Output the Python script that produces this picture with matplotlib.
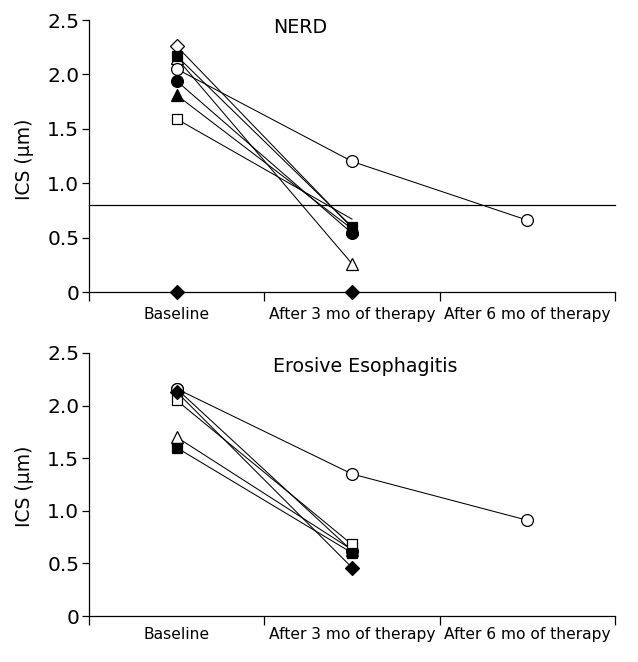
import numpy as np
import matplotlib
matplotlib.use("Agg")
import matplotlib.pyplot as plt

nan = np.nan
categories = ["Baseline", "After 3 mo of therapy", "After 6 mo of therapy"]
y_ticks = [0, 0.5, 1.0, 1.5, 2.0, 2.5]
y_tick_labels = ["0", "0.5", "1.0", "1.5", "2.0", "2.5"]
threshold = 0.8

# NERD panel (one list per patient)
nerd_open_triangle = [2.15, 0.26, nan]
nerd_filled_square = [2.17, 0.60, nan]
nerd_open_diamond = [2.26, 0.59, nan]
nerd_open_square = [1.59, 0.67, nan]
nerd_open_circle = [2.05, 1.20, 0.66]
nerd_filled_circle = [1.94, 0.54, nan]
nerd_filled_triangle = [1.81, 0.58, nan]
nerd_filled_diamond = [0.0, 0.0, nan]

# Erosive esophagitis panel
ero_open_circle_b = [2.16, 0.62, nan]
ero_open_triangle = [1.70, 0.63, nan]
ero_filled_square = [1.60, 0.60, nan]
ero_open_square = [2.05, 0.68, nan]
ero_filled_diamond = [2.13, 0.46, nan]
ero_open_circle = [2.16, 1.35, 0.91]

W, H = 638, 662
fig = plt.figure(figsize=(W / 100, H / 100), dpi=100)
plt.rcParams['font.family'] = ['DejaVu Sans']

xpos = np.arange(len(categories)) + 0.5

styles = {
    'open_circle': dict(marker='o', mfc='white', ms=8.5),
    'filled_circle': dict(marker='o', mfc='black', ms=8.5),
    'open_square': dict(marker='s', mfc='white', ms=7.2),
    'filled_square': dict(marker='s', mfc='black', ms=7.2),
    'open_triangle': dict(marker='^', mfc='white', ms=8.5),
    'filled_triangle': dict(marker='^', mfc='black', ms=8.5),
    'open_diamond': dict(marker='D', mfc='white', ms=7.0),
    'filled_diamond': dict(marker='D', mfc='black', ms=7.0),
}


def draw(ax, vals, kind, markevery=None):
    st = dict(styles[kind])
    kw = dict(color='black', lw=0.75, mec='black', mew=0.9, **st)
    if markevery is not None:
        kw['markevery'] = markevery
    ax.plot(xpos, vals, **kw)


def setup(ax, title, ty):
    ax.set_xlim(0, 3)
    ax.set_ylim(0, 2.5)
    for s in ['top', 'right']:
        ax.spines[s].set_visible(False)
    for s in ['left', 'bottom']:
        ax.spines[s].set_linewidth(0.9)
    ax.set_yticks(y_ticks)
    ax.set_yticklabels(y_tick_labels, fontsize=14.5)
    ax.tick_params(axis='y', direction='out', length=5, width=0.9, pad=2)
    ax.set_xticks([0, 1, 2, 3])
    ax.set_xticklabels([])
    ax.tick_params(axis='x', which='major', direction='out', length=6.5, width=0.9)
    ax.set_xticks(xpos, minor=True)
    ax.set_xticklabels(categories, minor=True, fontsize=11.2)
    ax.tick_params(axis='x', which='minor', length=0, pad=11)
    ax.text(0.35, ty, title, transform=ax.transAxes, fontsize=13.7,
            ha='left', va='center')


# top panel
ax1 = fig.add_axes([89 / W, 1 - 292 / H, 526 / W, 272 / H])
ax1.axhline(threshold, color='black', lw=0.9)
draw(ax1, nerd_open_triangle, 'open_triangle')
draw(ax1, nerd_open_diamond, 'open_diamond', markevery=[0])
draw(ax1, nerd_open_square, 'open_square', markevery=[0])
draw(ax1, nerd_filled_square, 'filled_square')
draw(ax1, nerd_open_circle, 'open_circle')
draw(ax1, nerd_filled_triangle, 'filled_triangle')
draw(ax1, nerd_filled_circle, 'filled_circle')
draw(ax1, nerd_filled_diamond, 'filled_diamond')
setup(ax1, "NERD", 0.974)
for l in ax1.lines:
    l.set_clip_on(False)

# bottom panel
ax2 = fig.add_axes([89 / W, 1 - 616 / H, 526 / W, 263 / H])
draw(ax2, ero_open_circle_b, 'open_circle')
draw(ax2, ero_open_triangle, 'open_triangle')
draw(ax2, ero_open_square, 'open_square')
draw(ax2, ero_filled_square, 'filled_square')
draw(ax2, ero_open_circle, 'open_circle')
draw(ax2, ero_filled_diamond, 'filled_diamond')
setup(ax2, "Erosive Esophagitis", 0.947)
ax2.tick_params(axis='x', which='minor', pad=8)
for l in ax2.lines:
    l.set_clip_on(False)

fig.text(25 / W, 1 - 159 / H, "ICS (\u03bcm)", rotation=90, ha='center', va='center', fontsize=13.5)
fig.text(25 / W, 1 - 486 / H, "ICS (\u03bcm)", rotation=90, ha='center', va='center', fontsize=13.5)

fig.savefig("out.png", dpi=100)
